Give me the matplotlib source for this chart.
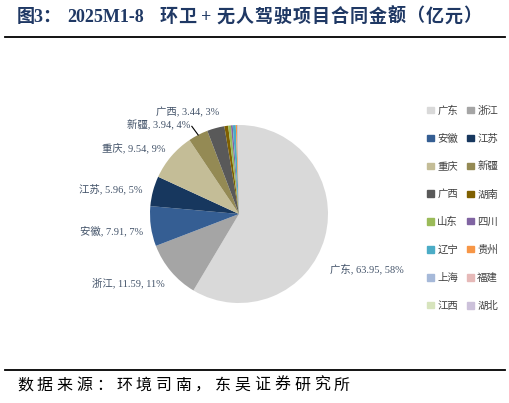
import numpy as np
import matplotlib
matplotlib.use('Agg')
import matplotlib.pyplot as plt

plt.rcParams['font.family'] = ['Liberation Serif', 'Noto Sans CJK SC', 'DejaVu Sans']

# data
provinces = ['广东', '浙江', '安徽', '江苏', '重庆', '新疆', '广西', '湖南',
             '山东', '四川', '辽宁', '贵州', '上海', '福建', '江西', '湖北']
amounts = [63.95, 11.59, 7.91, 5.96, 9.54, 3.94, 3.44, 0.75,
           0.55, 0.35, 0.6, 0.25, 0.15, 0.1, 0.08, 0.05]
pct_labels = ['58%', '11%', '7%', '5%', '9%', '4%', '3%']
colors = ['#D9D9D9', '#A5A5A5', '#355E93', '#17375E', '#C4BD97', '#948A54',
          '#595959', '#7F6000', '#9BBB59', '#8064A2', '#4BACC6', '#F79646',
          '#A6B9D9', '#E6B9B8', '#D7E4BD', '#CCC1DA']
title_head = '图3：'
title_code = '2025M1-8'
title_rest = '环卫+无人驾驶项目合同金额（亿元）'
source = '数据来源：环境司南，东吴证券研究所'

W, H = 510, 403
fig = plt.figure(figsize=(5.1, 4.03), dpi=100)

# title (letter-spaced like the original)
tc = '#1F3864'
ty = 1 - 17 / H
fig.text(17 / W, ty, title_head, fontsize=13, fontweight='bold', color=tc,
         va='center', ha='left')
fig.text(67 / W, ty, title_code, fontsize=13, fontweight='bold', color=tc,
         va='center', ha='left')
for i, ch in enumerate(title_rest):
    fig.text((168.5 + 19 * i) / W, ty, ch, fontsize=13, fontweight='bold',
             color=tc, va='center', ha='center')

fig.add_artist(plt.Line2D([0.01, 0.99], [0.908, 0.908], color='black', lw=1.3))
fig.add_artist(plt.Line2D([0.01, 0.99], [0.082, 0.082], color='black', lw=1.3))

# source line
for i, ch in enumerate(source):
    fig.text((17 + 19.8 * i) / W, 1 - 386 / H, ch, fontsize=11.5, color='black',
             va='center', ha='left')

# pie: center (239,214) px, radius 89 px
cx, cy, r = 239, 214, 89
ax = fig.add_axes([(cx - r) / W, 1 - (cy + r) / H, 2 * r / W, 2 * r / H])
wedges, _ = ax.pie(amounts, colors=colors, startangle=90, counterclock=False,
                   radius=1.0, wedgeprops=dict(linewidth=0))
ax.set_xlim(-1, 1)
ax.set_ylim(-1, 1)
ax.set_aspect('equal')
ax.axis('off')

# labels (layout positions in pie-radius units)
label_pos = [(1.02, -0.62, 'left'), (-0.83, -0.78, 'right'), (-1.08, -0.19, 'right'),
             (-1.08, 0.28, 'right'), (-0.83, 0.74, 'right'), (-0.55, 1.0, 'right'),
             (-0.22, 1.15, 'right')]
for i, (x, y, ha) in enumerate(label_pos):
    txt = '%s, %.2f, %s' % (provinces[i], amounts[i], pct_labels[i])
    ax.text(x, y, txt, ha=ha, va='center', fontsize=7.5, color='#44546A',
            clip_on=False)

# leader line for 新疆
w = wedges[5]
mid = np.deg2rad((w.theta1 + w.theta2) / 2)
ax.plot([-0.53, np.cos(mid) * 1.0], [0.985, np.sin(mid) * 1.0], color='black',
        lw=0.8, clip_on=False)

# legend, row-major in two columns -> reorder for matplotlib's column fill
handles = [plt.Rectangle((0, 0), 1, 1, color=c) for c in colors]
order = list(range(0, 16, 2)) + list(range(1, 16, 2))
fig.legend([handles[i] for i in order], [provinces[i] for i in order], ncol=2,
           loc='upper left', bbox_to_anchor=(418 / W, 1 - 96 / H), frameon=False,
           fontsize=7.5, handlelength=0.6, handleheight=0.6, handletextpad=0.35,
           columnspacing=0.9, labelspacing=1.72, labelcolor='#404040')

fig.savefig('out.png', dpi=100)
